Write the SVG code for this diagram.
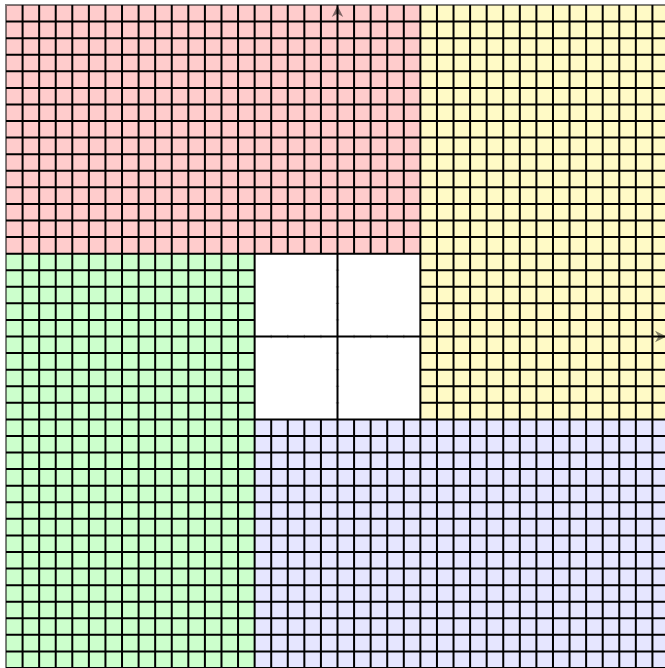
<svg xmlns="http://www.w3.org/2000/svg" width="665" height="668" viewBox="0 0 665 668">
<style>
.grid{fill:none;stroke:#000;stroke-width:2;vector-effect:non-scaling-stroke}
.edge{fill:none;stroke:#000;stroke-opacity:.5;stroke-width:2;vector-effect:non-scaling-stroke}
.tick{fill:none;stroke:#000;stroke-opacity:.3;stroke-width:1.2;vector-effect:non-scaling-stroke}
.arrow{fill:#000;fill-opacity:.5;stroke:none}
</style>
<rect width="665" height="668" fill="#fff"/>
<g id="plane" transform="translate(6 5) scale(16.575)">
<g id="regions">
<rect id="red" x="0" y="0" width="25" height="15" fill="#ffcccc"/>
<rect id="yellow" x="25" y="0" width="15" height="25" fill="#fffac6"/>
<rect id="blue" x="15" y="25" width="25" height="15" fill="#e6e6ff"/>
<rect id="green" x="0" y="15" width="15" height="25" fill="#ccffcc"/>
</g>
<g id="gridlines">
<path class="grid" d="M1 0V40M2 0V40M3 0V40M4 0V40M5 0V40M6 0V40M7 0V40M8 0V40M9 0V40M10 0V40M11 0V40M12 0V40M13 0V40M14 0V40M15 0V40M20 0V40M25 0V40M26 0V40M27 0V40M28 0V40M29 0V40M30 0V40M31 0V40M32 0V40M33 0V40M34 0V40M35 0V40M36 0V40M37 0V40M38 0V40M39 0V40"/>
<path class="grid" d="M16 0V15M16 25V40M17 0V15M17 25V40M18 0V15M18 25V40M19 0V15M19 25V40M21 0V15M21 25V40M22 0V15M22 25V40M23 0V15M23 25V40M24 0V15M24 25V40"/>
<path class="grid" d="M0 1H40M0 2H40M0 3H40M0 4H40M0 5H40M0 6H40M0 7H40M0 8H40M0 9H40M0 10H40M0 11H40M0 12H40M0 13H40M0 14H40M0 15H40M0 20H40M0 25H40M0 26H40M0 27H40M0 28H40M0 29H40M0 30H40M0 31H40M0 32H40M0 33H40M0 34H40M0 35H40M0 36H40M0 37H40M0 38H40M0 39H40M0 40H40"/>
<path class="grid" d="M0 16H15M25 16H40M0 17H15M25 17H40M0 18H15M25 18H40M0 19H15M25 19H40M0 21H15M25 21H40M0 22H15M25 22H40M0 23H15M25 23H40M0 24H15M25 24H40"/>
<path class="edge" d="M0 40V0H40"/>
<path class="tick" d="M16 19.9V20.1M17 19.9V20.1M18 19.9V20.1M19 19.9V20.1M21 19.9V20.1M22 19.9V20.1M23 19.9V20.1M24 19.9V20.1M19.9 16H20.1M19.9 17H20.1M19.9 18H20.1M19.9 19H20.1M19.9 21H20.1M19.9 22H20.1M19.9 23H20.1M19.9 24H20.1"/>
</g>
</g>
<g id="axes">
<path id="y-arrow" class="arrow" d="M337.5 5.5L343.2 17L337.5 13.5L331.8 17Z"/>
<path id="x-arrow" class="arrow" d="M666.5 336.5L655 342.2L658.5 336.5L655 330.8Z"/>
</g>
</svg>
